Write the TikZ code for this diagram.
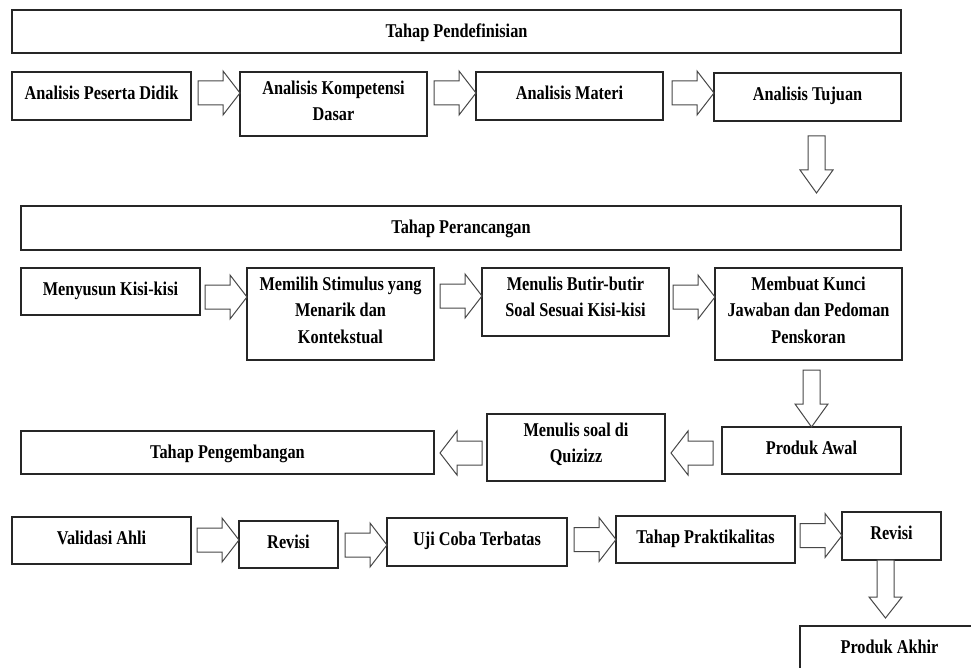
\documentclass[tikz,border=0pt]{standalone}
\usepackage{fontspec}
\setmainfont{Liberation Serif}[FakeStretch=0.835]
\usepackage{tikz}

\tikzset{
  box/.style={draw=black!85, line width=1.1pt, inner sep=0pt, outer sep=0pt},
  lbl/.style={font=\bfseries\fontsize{19.5}{26.5}\selectfont, align=center,
    inner sep=0pt, anchor=north, execute at begin node=\strut},
  blk/.style={draw=black!72, line width=1pt, fill=white, line join=miter}
}

\begin{document}
\begin{tikzpicture}[x=1pt,y=-1pt]
% box: name, left, top, right, bottom, text
\newcommand{\tahapbox}[6]{
  \node[box, anchor=north west, minimum width={(#4-#2)*1pt},
    minimum height={(#5-#3)*1pt}] (#1) at (#2,#3) {};
  \node[lbl] (#1-t) at ([yshift=-8.45pt]#1.north) {#6};
}
% block arrow: tip, direction
\newcommand{\harrow}[2]{
  \begin{scope}[shift={(#1)}, rotate=#2]
    \draw[blk] (0,0) -- (-17,22) -- (-17,12) -- (-42,12) -- (-42,-12)
      -- (-17,-12) -- (-17,-22) -- cycle;
  \end{scope}
}
% downward block arrow: tip, length, head length
\newcommand{\varrow}[3]{
  \begin{scope}[shift={(#1)}, rotate=-90]
    \draw[blk] (0,0) -- (-#3,16.5) -- (-#3,8.5) -- (-#2,8.5) -- (-#2,-8.5)
      -- (-#3,-8.5) -- (-#3,-16.5) -- cycle;
  \end{scope}
}

\fill[white] (0,0) rectangle (971,668);
\useasboundingbox (0,0) rectangle (971,668);
\clip (0,0) rectangle (971,668);

% Tahap Pendefinisian
\tahapbox{pend}{12}{10}{901}{53}{Tahap Pendefinisian}
\tahapbox{apd}{12}{72}{191}{120}{Analisis Peserta Didik}
\tahapbox{akd}{240}{72}{427}{136}{Analisis Kompetensi\\Dasar}
\tahapbox{am}{476}{72}{663}{120}{Analisis Materi}
\tahapbox{at}{714}{73}{901}{121}{Analisis Tujuan}
\harrow{akd.west |- 0,93}{0}
\harrow{am.west |- 0,93}{0}
\harrow{at.west |- 0,93}{0}
\varrow{816.5,193}{57}{23}

% Tahap Perancangan
\tahapbox{peranc}{21}{206}{901}{250}{Tahap Perancangan}
\tahapbox{msk}{21}{268}{200}{315}{Menyusun Kisi-kisi}
\tahapbox{mst}{247}{268}{434}{360}{Memilih Stimulus yang\\Menarik dan\\Kontekstual}
\tahapbox{mbb}{482}{268}{669}{336}{Menulis Butir-butir\\Soal Sesuai Kisi-kisi}
\tahapbox{mkj}{715}{268}{902}{360}{Membuat Kunci\\Jawaban dan Pedoman\\Penskoran}
\harrow{mst.west |- 0,297}{0}
\harrow{mbb.west |- 0,296}{0}
\harrow{mkj.west |- 0,297}{0}

% Tahap Pengembangan
\tahapbox{pa}{722}{427}{901}{474}{Produk Awal}
\tahapbox{msq}{487}{414}{665}{481}{Menulis soal di\\Quizizz}
\tahapbox{peng}{21}{431}{434}{474}{Tahap Pengembangan}
\varrow{pa.north}{57}{23}
\harrow{671,453}{180}
\harrow{440,453}{180}

\tahapbox{va}{12}{517}{191}{564}{Validasi Ahli}
\tahapbox{rev1}{239}{521}{338}{568}{Revisi}
\tahapbox{ujt}{387}{518}{567}{566}{Uji Coba Terbatas}
\tahapbox{tp}{616}{516}{795}{563}{Tahap Praktikalitas}
\tahapbox{rev2}{842}{512}{941}{560}{Revisi}
\tahapbox{pak}{800}{626}{979}{674}{Produk Akhir}
\harrow{rev1.west |- 0,540}{0}
\harrow{ujt.west |- 0,545}{0}
\harrow{tp.west |- 0,539.5}{0}
\harrow{rev2.west |- 0,535.5}{0}
\varrow{885.5,618}{58}{21}
\end{tikzpicture}
\end{document}
